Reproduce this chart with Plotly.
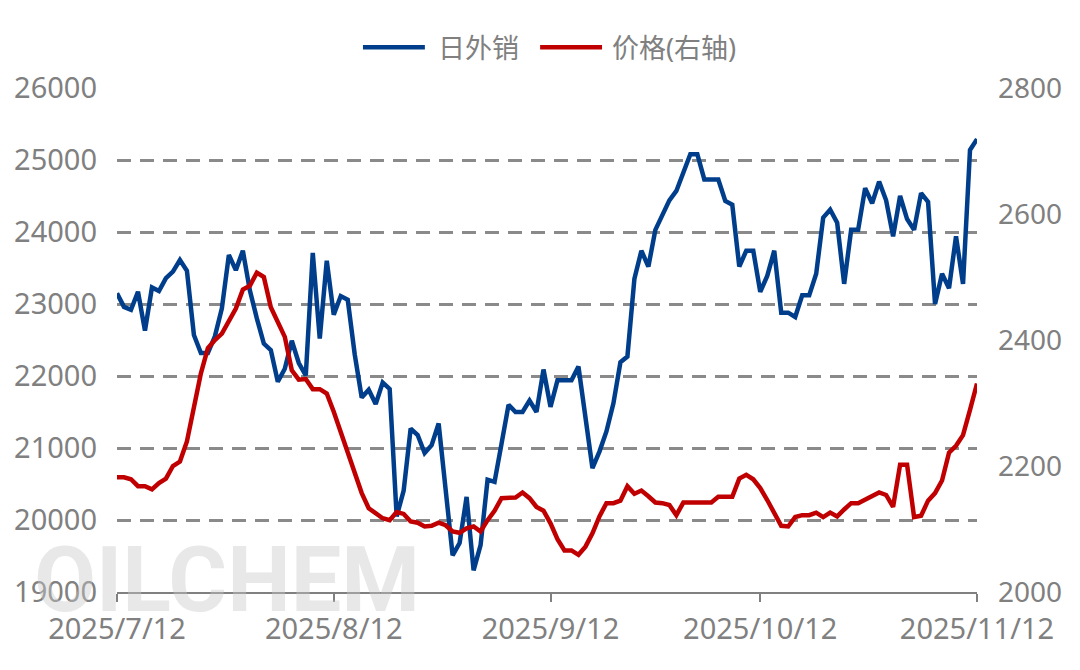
import plotly.graph_objects as go
import pandas as pd

# ---- data ----
dates = pd.date_range("2025-07-12", "2025-11-12", freq="D")

export_daily = [
    23150, 22960, 22920, 23170, 22630, 23230, 23180, 23360, 23450, 23610,
    23460, 22570, 22320, 22320, 22550, 22940, 23680, 23470, 23740, 23190,
    22800, 22450, 22360, 21920, 22100, 22490, 22180, 22010, 23710, 22520,
    23600, 22850, 23110, 23060, 22300, 21700, 21810, 21610, 21910, 21820,
    20050, 20410, 21270, 21180, 20930, 21040, 21340, 20450, 19510, 19680,
    20320, 19300, 19650, 20560, 20530, 21060, 21600, 21500, 21500, 21660,
    21500, 22090, 21570, 21940, 21940, 21940, 22130, 21450, 20720, 20950,
    21230, 21620, 22190, 22270, 23350, 23740, 23520, 24030, 24230, 24440,
    24570, 24830, 25080, 25080, 24730, 24730, 24730, 24430, 24380, 23520,
    23740, 23740, 23170, 23390, 23740, 22880, 22880, 22820, 23120, 23120,
    23420, 24200, 24310, 24130, 23280, 24030, 24030, 24610, 24400, 24700,
    24440, 23940, 24500, 24180, 24030, 24540, 24420, 23000, 23420, 23220,
    23940, 23280, 25140, 25290,
]

price = [
    2182, 2182, 2179, 2168, 2168, 2163, 2173, 2180, 2200, 2207,
    2239, 2294, 2347, 2387, 2400, 2410, 2431, 2450, 2480, 2486,
    2507, 2500, 2452, 2427, 2405, 2352, 2337, 2338, 2322, 2322,
    2315, 2286, 2254, 2223, 2191, 2157, 2133, 2124, 2117, 2114,
    2127, 2124, 2112, 2110, 2104, 2105, 2110, 2106, 2096, 2094,
    2101, 2104, 2096, 2114, 2129, 2149, 2150, 2150, 2158, 2149,
    2135, 2129, 2109, 2084, 2066, 2066, 2059, 2072, 2093, 2120,
    2141, 2141, 2145, 2168, 2156, 2161, 2152, 2142, 2141, 2138,
    2122, 2142, 2142, 2142, 2142, 2142, 2151, 2151, 2151, 2180,
    2186, 2179, 2165, 2146, 2127, 2105, 2104, 2119, 2122, 2122,
    2126, 2119, 2126, 2120, 2131, 2141, 2141, 2147, 2154, 2158,
    2154, 2135, 2202, 2202, 2119, 2121, 2145, 2157, 2177, 2221,
    2232, 2249, 2289, 2331,
]

tick_dates = ["2025-07-12", "2025-08-12", "2025-09-12", "2025-10-12", "2025-11-12"]
tick_labels = ["2025/7/12", "2025/8/12", "2025/9/12", "2025/10/12", "2025/11/12"]
left_ticks = [19000, 20000, 21000, 22000, 23000, 24000, 25000, 26000]
right_ticks = [2000, 2200, 2400, 2600, 2800]

name_export = "日外销"
name_price = "价格(右轴)"

BLUE = "#003E8C"
RED = "#C00000"
GREY = "#808080"
FONT = "Noto Sans, Noto Sans CJK SC, sans-serif"
LW = 4.5

fig = go.Figure()
fig.add_trace(go.Scatter(x=dates, y=export_daily, name=name_export, mode="lines",
                         line=dict(color=BLUE, width=LW), yaxis="y"))
fig.add_trace(go.Scatter(x=dates, y=price, name=name_price, mode="lines",
                         line=dict(color=RED, width=LW), yaxis="y2"))

fig.update_layout(
    width=1080, height=670,
    margin=dict(l=109, r=111, t=80, b=86),
    paper_bgcolor="white", plot_bgcolor="white",
    font=dict(family=FONT, color=GREY, size=28),
    showlegend=False,
    xaxis=dict(
        type="date",
        range=[tick_dates[0], tick_dates[-1]],
        tickvals=tick_dates, ticktext=tick_labels,
        showgrid=False, zeroline=False,
        showline=True, linecolor=GREY, linewidth=2,
        ticks="outside", ticklen=8, tickwidth=2, tickcolor=GREY,
        tickfont=dict(size=29, color=GREY),
        ticklabelstandoff=2,
        automargin=False,
    ),
    yaxis=dict(
        range=[19000, 26000], tickvals=left_ticks,
        ticktext=[str(v) for v in left_ticks],
        showgrid=True, gridcolor="#8a8a8a", gridwidth=2.5, griddash="14px,9px",
        zeroline=False, showline=False, ticks="",
        tickfont=dict(size=29, color=GREY),
        ticklabelstandoff=19,
        automargin=False,
    ),
    yaxis2=dict(
        range=[2000, 2800], tickvals=right_ticks,
        ticktext=[str(v) for v in right_ticks],
        overlaying="y", side="right",
        showgrid=False, zeroline=False, showline=False, ticks="",
        tickfont=dict(size=28, color=GREY),
        ticklabelstandoff=20,
        automargin=False,
    ),
)

# legend drawn above the plot (line sample + label)
legend_y = 1.081
legend_items = [
    (name_export, BLUE, 0.286, 0.358, 0.371),
    (name_price, RED, 0.492, 0.564, 0.573),
]
for label, color, x0, x1, xt in legend_items:
    fig.add_shape(type="line", xref="paper", yref="paper",
                  x0=x0, x1=x1, y0=legend_y, y1=legend_y,
                  line=dict(color=color, width=LW))
    fig.add_annotation(text=label, xref="paper", yref="paper",
                       x=xt, y=legend_y, xanchor="left", yanchor="middle",
                       showarrow=False, font=dict(size=27, color=GREY))

# OILCHEM watermark
fig.add_annotation(
    text="<b>OILCHEM</b>", xref="paper", yref="paper",
    x=0.128, y=0.022, xanchor="center", yanchor="middle", showarrow=False,
    font=dict(family="Liberation Sans Narrow, Arial Narrow, Roboto, sans-serif",
              size=90, color="rgba(200,200,200,0.42)"),
)

fig.write_html("out.html")
